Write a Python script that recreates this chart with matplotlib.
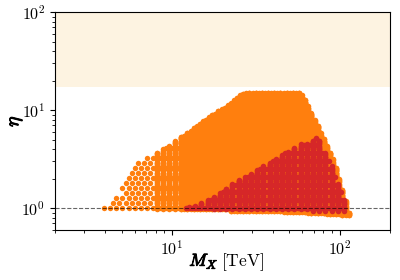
import numpy as np
import matplotlib
matplotlib.use("Agg")
import matplotlib.pyplot as plt
import matplotlib.patheffects as pe
from matplotlib.path import Path

plt.rcParams['mathtext.fontset'] = 'cm'
plt.rcParams['font.family'] = 'serif'
plt.rcParams['font.serif'] = ['cmr10', 'DejaVu Serif']
plt.rcParams['axes.formatter.use_mathtext'] = True

# outline of the scanned region (M_X [TeV], eta)
orange_M = [3.75, 4.27, 4.84, 5.47, 5.86, 6.45, 7.10, 7.71, 8.48, 9.59, 10.6, 12.5,
            13.9, 16.4, 19.0, 22.4, 25.7, 27.2, 58.6, 60.7, 64.9, 71.5, 77.6, 85.4,
            94.0, 100.7, 108, 112.5, 116, 101, 74, 37.3, 14.9, 5.7, 3.7]
orange_eta = [1.01, 1.12, 1.42, 2.28, 2.81, 3.05, 3.27, 3.52, 3.95, 4.45, 5.0, 5.9,
              6.95, 8.4, 9.9, 11.9, 14.4, 15.0, 15.0, 14.2, 11.2, 7.9, 5.8, 4.19,
              2.88, 1.93, 1.29, 0.93, 0.83, 0.84, 0.88, 0.93, 0.95, 0.97, 0.97]

# outline of the sub-region passing the extra constraint
red_M = [11.6, 13.5, 17.5, 20.4, 23.1, 28.3, 33.9, 39.9, 49.7, 58.6, 67.2, 72.9,
         77.6, 83.1, 89.0, 95.3, 102, 108, 111, 88.3, 58.6, 22.4, 11.6]
red_eta = [1.0, 1.06, 1.30, 1.53, 1.84, 2.18, 2.62, 3.08, 3.9, 4.5, 4.5, 5.6,
           4.5, 3.6, 2.85, 2.0, 1.48, 1.17, 0.94, 0.92, 0.95, 0.965, 0.975]

excluded_eta = [17.2, 100]
eta_ref = 1.0


def scan_points(M, eta, dx, dy, hexa=True, m_min=0.0):
    # lattice in log space anchored at the lower-left corner, kept inside the outline
    poly = Path(np.column_stack([np.log10(M), np.log10(eta)]))
    x0 = np.log10(M[0])
    lx = x0 + dx * np.arange(-5, 200)
    ly = dy * np.arange(-20, 150)
    pts = [(x, y) for i, x in enumerate(lx) for j, y in enumerate(ly)
           if (not hexa or (i + j) % 2 == 0) and x >= np.log10(max(m_min, 1e-9))]
    pts = np.array(pts)
    pts = pts[poly.contains_points(pts, radius=2e-3)]
    return 10**pts[:, 0], 10**pts[:, 1]


fig = plt.figure(figsize=(4, 2.8), dpi=100)
ax = fig.add_axes([0.1375, 0.179, 0.8375, 0.778])

ax.axhspan(excluded_eta[0], excluded_eta[1], color='#fdf3e1', lw=0, zorder=0)

layers = [
    (orange_M, orange_eta, '#ff7f0e', 0.0185, 0.051, True, 0.0, 15),
    (orange_M, orange_eta, '#ff7f0e', 0.037, 0.0125, False, 7.8, 16),
    (orange_M, orange_eta, '#ff7f0e', 0.0185, 0.0125, False, 11.0, 16),
    (red_M, red_eta, '#d62728', 0.0185, 0.04, True, 0.0, 16),
    (red_M, red_eta, '#d62728', 0.037, 0.0125, False, 0.0, 16),
]
for M, eta, c, dx, dy, hexa, mmin, s in layers:
    px, py = scan_points(M, eta, dx, dy, hexa, mmin)
    ax.scatter(px, py, s=s, color=c, lw=0, zorder=2 + (c == '#d62728'))

ax.axhline(eta_ref, color='k', ls='--', lw=0.8, alpha=0.6, zorder=4)

ax.set_xscale('log')
ax.set_yscale('log')
ax.set_xlim(2, 200)
ax.set_ylim(0.6, 100)
ax.tick_params(labelsize=11.5)

bold = [pe.withStroke(linewidth=0.7, foreground='k')]
ax.text(0.488, -0.165, r'$M_X$', transform=ax.transAxes, ha='right', va='baseline',
        fontsize=12.5, path_effects=bold)
ax.text(0.497, -0.165, r'$\mathrm{[TeV]}$', transform=ax.transAxes, ha='left',
        va='baseline', fontsize=12.5)
ax.text(-0.116, 0.5, r'$\eta$', transform=ax.transAxes, ha='center', va='center',
        rotation=90, fontsize=14, path_effects=bold)

fig.savefig('out.png', dpi=100)
